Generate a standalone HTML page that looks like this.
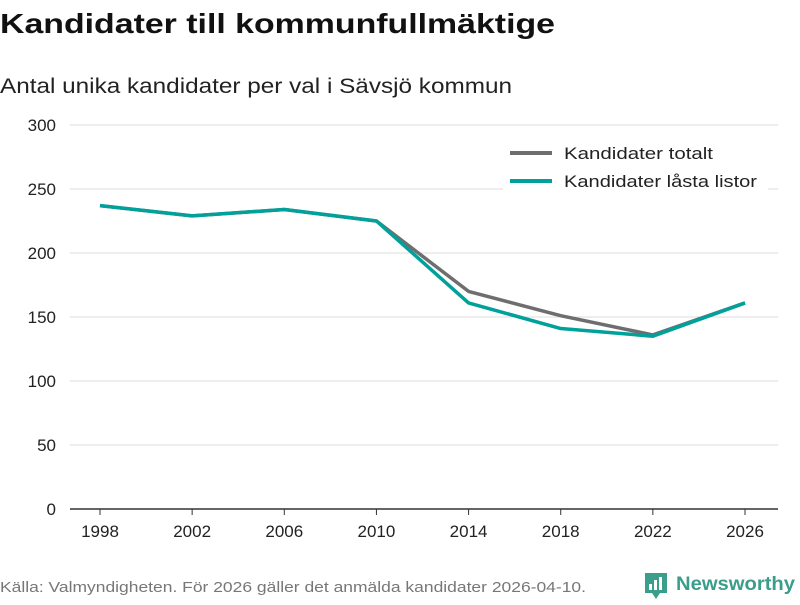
<!DOCTYPE html>
<html><head><meta charset="utf-8"><style>
body{margin:0;background:#fff;width:800px;height:600px;overflow:hidden;font-family:"Liberation Sans","DejaVu Sans",sans-serif;}
</style></head><body>
<svg width="800" height="600" xmlns="http://www.w3.org/2000/svg" id="svg">
<text x="0" y="33" font-size="28" font-weight="bold" fill="#111" textLength="555" lengthAdjust="spacingAndGlyphs">Kandidater till kommunfullmäktige</text>
<text x="0" y="93" font-size="21" fill="#222" textLength="512" lengthAdjust="spacingAndGlyphs">Antal unika kandidater per val i Sävsjö kommun</text>
<g id="grid"></g>
<g id="series"></g>
<g>
<rect x="503" y="138" width="265" height="60" fill="#fff"/>
<line x1="510" y1="153" x2="552" y2="153" stroke="#6e6e70" stroke-width="4"/>
<text x="564" y="159" font-size="17" fill="#222" textLength="149" lengthAdjust="spacingAndGlyphs">Kandidater totalt</text>
<line x1="510" y1="181" x2="552" y2="181" stroke="#00a19a" stroke-width="4"/>
<text x="564" y="187" font-size="17" fill="#222" textLength="193" lengthAdjust="spacingAndGlyphs">Kandidater låsta listor</text>
</g>
<text x="0" y="592" font-size="15" fill="#777" textLength="586" lengthAdjust="spacingAndGlyphs">Källa: Valmyndigheten. För 2026 gäller det anmälda kandidater 2026-04-10.</text>
<g>
<path d="M645 573 h22 v20 h-7 l-4 6 l-4 -6 h-7 z" fill="#3a9e8a"/>
<rect x="649" y="584" width="3" height="6" fill="#fff"/><rect x="654" y="580" width="3" height="10" fill="#fff"/><rect x="659" y="577" width="3" height="13" fill="#fff"/>
<text x="676" y="590" font-size="19" font-weight="bold" fill="#3a9e8a" textLength="119" lengthAdjust="spacingAndGlyphs">Newsworthy</text>
</g>
</svg>
<script>
const years=[1998,2002,2006,2010,2014,2018,2022,2026];
const total=[237,229,234,225,170,151,136,161];
const locked=[237,229,234,225,161,141,135,161];
const yTicks=[0,50,100,150,200,250,300];
const NS="http://www.w3.org/2000/svg";
const x0=100,x1=745,yb=509,yt=125;
const xs=y=>x0+(y-years[0])/(years[years.length-1]-years[0])*(x1-x0);
const ys=v=>yb-v/300*(yb-yt);
const grid=document.getElementById('grid'),ser=document.getElementById('series');
function mk(t,a,p){const e=document.createElementNS(NS,t);for(const k in a)e.setAttribute(k,a[k]);p.appendChild(e);return e;}
yTicks.forEach(v=>{
const l=mk('line',{x1:70,x2:778,y1:ys(v),y2:ys(v),stroke:v===0?'#333':'#ddd','stroke-width':v===0?1.5:1},grid);


const t=mk('text',{x:56,y:ys(v)+6,'font-size':17,fill:'#222','text-anchor':'end'},grid);t.textContent=v;


});
years.forEach(y=>{
const l=mk('line',{x1:xs(y),x2:xs(y),y1:yb,y2:yb+6,stroke:'#333'},grid);


const t=mk('text',{x:xs(y),y:537,'font-size':17,fill:'#222','text-anchor':'middle'},grid);t.textContent=y;


});
[[total,'#6e6e70','line-total'],[locked,'#00a19a','line-locked']].forEach(([d,c,n])=>{
const p=mk('polyline',{points:d.map((v,i)=>xs(years[i])+','+ys(v)).join(' '),fill:'none',stroke:c,'stroke-width':3.5,'stroke-linejoin':'round'},ser);


});
</script>
</body></html>
